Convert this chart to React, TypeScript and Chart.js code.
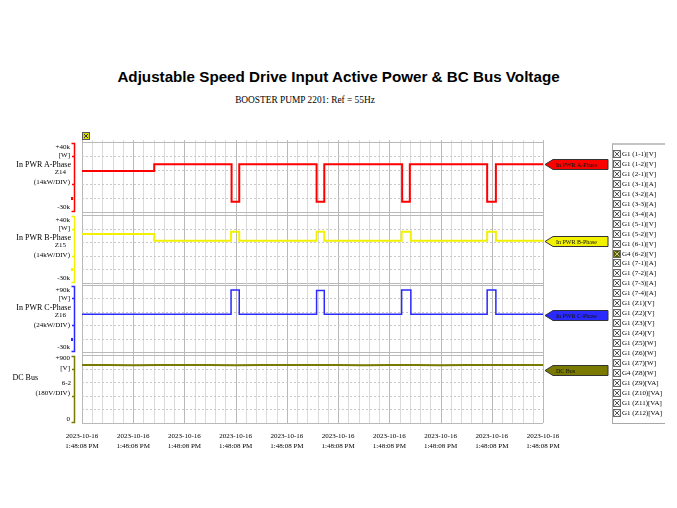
import React, { useEffect, useRef } from 'react';
import { Chart, registerables } from 'chart.js';

Chart.register(...registerables);

// ---------- data ----------
const xTickDates = ['2023-10-16', '2023-10-16', '2023-10-16', '2023-10-16', '2023-10-16', '2023-10-16', '2023-10-16', '2023-10-16', '2023-10-16', '2023-10-16'];
const xTickTimes = ['1:48:08 PM', '1:48:08 PM', '1:48:08 PM', '1:48:08 PM', '1:48:08 PM', '1:48:08 PM', '1:48:08 PM', '1:48:08 PM', '1:48:08 PM', '1:48:08 PM'];

// time axis in divisions (0..9)
const phaseATime = [0, 1.41, 2.92, 3.07, 4.58, 4.73, 6.25, 6.4, 7.91, 8.08, 9];
const phaseAPower = [11000, 17700, -19700, 17700, -19700, 17700, -19700, 17700, -19700, 17700, 17700];

const phaseBTime = [0, 1.41, 2.91, 3.07, 4.58, 4.73, 6.24, 6.42, 7.91, 8.08, 9];
const phaseBPower = [20400, 13600, 22800, 13600, 22800, 13600, 22800, 13600, 22800, 13600, 13600];

const phaseCTime = [0, 2.91, 3.07, 4.58, 4.73, 6.24, 6.42, 7.91, 8.08, 9];
const phaseCPower = [37500, 81000, 37500, 80000, 37500, 81000, 37500, 81000, 37500, 37500];

const dcBusTime = [0, 0.5, 1, 1.5, 2, 2.5, 3, 3.5, 4, 4.5, 5, 5.5, 6, 6.5, 7, 7.5, 8, 8.5, 9];
const dcBusVolts = [766, 768, 765, 767, 769, 766, 764, 767, 768, 766, 767, 765, 768, 766, 764, 767, 769, 766, 767];

const panelNames = ['In PWR A-Phase', 'In PWR B-Phase', 'In PWR C-Phase', 'DC Bus'];
const panelTopLabels = ['+40k', '+40k', '+90k', '+900'];
const panelUnits = ['[W]', '[W]', '[W]', '[V]'];
const panelChannels = ['Z14', 'Z15', 'Z16', '6-2'];
const panelDivLabels = ['(14kW/DIV)', '(14kW/DIV)', '(24kW/DIV)', '(180V/DIV)'];
const panelBottomLabels = ['-30k', '-30k', '-30k', '0'];
const panelMin = [-30000, -30000, -30000, 0];
const panelMax = [40000, 40000, 90000, 900];

const channelList = [
  'G1 (1-1)[V]', 'G1 (1-2)[V]', 'G1 (2-1)[V]', 'G1 (3-1)[A]', 'G1 (3-2)[A]', 'G1 (3-3)[A]', 'G1 (3-4)[A]',
  'G1 (5-1)[V]', 'G1 (5-2)[V]', 'G1 (6-1)[V]', 'G4 (6-2)[V]', 'G1 (7-1)[A]', 'G1 (7-2)[A]', 'G1 (7-3)[A]',
  'G1 (7-4)[A]', 'G1 (Z1)[V]', 'G1 (Z2)[V]', 'G1 (Z3)[V]', 'G1 (Z4)[V]', 'G1 (Z5)[W]', 'G1 (Z6)[W]',
  'G1 (Z7)[W]', 'G4 (Z8)[W]', 'G1 (Z9)[VA]', 'G1 (Z10)[VA]', 'G1 (Z11)[VA]', 'G1 (Z12)[VA]',
];
const activeChannels = ['G4 (6-2)[V]'];

const SERIES = [
  { t: phaseATime, v: phaseAPower },
  { t: phaseBTime, v: phaseBPower },
  { t: phaseCTime, v: phaseCPower },
  { t: dcBusTime, v: dcBusVolts },
];

// ---------- styles / layout ----------
const W = 677;
const PLOT_LEFT = 82;
const PLOT_RIGHT = 543;
const PANEL_TOP = [142, 215, 285, 355];
const PANEL_BOTTOM = [212, 283, 352, 423];
const AXIS_H = 30;
const COLORS = ['#ff0000', '#f2f200', '#2a2aff', '#7a7a00'];
const LINE_W = [2, 2, 1.5, 2];
const STEPPED = [true, true, true, false];
const TAG_OFFSET = [0, 0, 1, 5];
const SERIF = '"Liberation Serif", "Times New Roman", serif';

function Panel({ idx }: { idx: number }) {
  const ref = useRef<HTMLCanvasElement>(null);
  const isLast = idx === 3;
  const top = PANEL_TOP[idx];
  const bottom = PANEL_BOTTOM[idx];
  const h = isLast ? bottom - top + 2 + AXIS_H : bottom - top + 4;

  useEffect(() => {
    const s = SERIES[idx];
    const color = COLORS[idx];
    const gridPlugin = {
      id: 'scopeGrid',
      beforeDatasetsDraw(chart: any) {
        const { ctx, chartArea: a, scales } = chart;
        const x = scales.x;
        const y = scales.y;
        ctx.save();
        ctx.lineWidth = 1;
        const ext = 2;
        for (let k = 0; k <= 45; k++) {
          const px = Math.round(x.getPixelForValue(k * 0.2)) + 0.5;
          ctx.strokeStyle = k % 5 === 0 ? '#b9b9b9' : '#dadada';
          ctx.beginPath();
          ctx.moveTo(px, a.top - ext);
          ctx.lineTo(px, a.bottom + (isLast ? 0 : ext));
          ctx.stroke();
        }
        const mn = panelMin[idx];
        const mx = panelMax[idx];
        for (let j = 0; j <= 5; j++) {
          const py = Math.round(y.getPixelForValue(mn + (j * (mx - mn)) / 5)) + 0.5;
          const edge = j === 0 || j === 5;
          ctx.strokeStyle = edge ? '#b9b9b9' : '#c8c8c8';
          ctx.setLineDash(edge ? [] : [2, 2]);
          ctx.beginPath();
          ctx.moveTo(a.left, py);
          ctx.lineTo(a.right, py);
          ctx.stroke();
        }
        ctx.setLineDash([]);
        ctx.restore();
      },
      afterDraw(chart: any) {
        const { ctx, chartArea: a, scales } = chart;
        const y = scales.y;
        ctx.save();
        // bracket on the left
        const bx = 74.5;
        ctx.strokeStyle = color;
        ctx.lineWidth = 1.5;
        ctx.beginPath();
        ctx.moveTo(bx - 3, a.top + 1.5);
        ctx.lineTo(bx, a.top + 1.5);
        ctx.lineTo(bx, a.bottom - 0.5);
        ctx.lineTo(bx - 3, a.bottom - 0.5);
        ctx.stroke();
        const mn = panelMin[idx];
        const mx = panelMax[idx];
        [1, 3].forEach((j) => {
          const py = Math.round(y.getPixelForValue(mx - (j * (mx - mn)) / 5)) + 0.5;
          ctx.beginPath();
          ctx.moveTo(bx - 2.5, py);
          ctx.lineTo(bx, py);
          ctx.stroke();
        });
        if (!isLast) {
          const pd = Math.round(y.getPixelForValue(mx - (4 * (mx - mn)) / 5));
          ctx.fillStyle = color;
          ctx.fillRect(71, pd - 1, 2, 3);
        }
        // tag on the right
        const lastV = s.v[s.v.length - 1];
        const ty = Math.round(y.getPixelForValue(lastV)) + TAG_OFFSET[idx] + 0.5;
        const tipX = 545;
        const bodyX = 553;
        const endX = 608;
        ctx.beginPath();
        ctx.moveTo(tipX, ty);
        ctx.lineTo(bodyX, ty - 5);
        ctx.lineTo(endX, ty - 5);
        ctx.lineTo(endX, ty + 5);
        ctx.lineTo(bodyX, ty + 5);
        ctx.closePath();
        ctx.fillStyle = color;
        ctx.fill();
        ctx.strokeStyle = '#333';
        ctx.lineWidth = 1;
        ctx.stroke();
        ctx.fillStyle = '#111';
        ctx.font = `6px ${SERIF}`;
        ctx.textBaseline = 'middle';
        ctx.textAlign = 'left';
        ctx.fillText(panelNames[idx], bodyX + 3, ty + 0.5);
        ctx.restore();
      },
    };

    const xScale: any = {
      type: 'linear',
      min: 0,
      max: 9,
      display: isLast,
      grid: { display: false, drawTicks: false },
      border: { display: false },
      ticks: {
        stepSize: 1,
        autoSkip: false,
        maxRotation: 0,
        padding: 8,
        color: '#000',
        font: { family: SERIF, size: 7, lineHeight: 1.4 },
        callback: (v: any) => {
          const i = Math.round(Number(v));
          return [xTickDates[i], xTickTimes[i]];
        },
      },
    };
    if (isLast) {
      xScale.afterFit = (sc: any) => {
        sc.height = AXIS_H;
      };
    }

    const chart = new Chart(ref.current as HTMLCanvasElement, {
      type: 'line',
      data: {
        datasets: [
          {
            data: s.t.map((t, i) => ({ x: t, y: s.v[i] })),
            borderColor: color,
            borderWidth: LINE_W[idx],
            stepped: STEPPED[idx] ? 'before' : false,
            pointRadius: 0,
            fill: false,
            tension: 0,
          } as any,
        ],
      },
      options: {
        animation: false,
        responsive: false,
        maintainAspectRatio: false,
        devicePixelRatio: 1,
        events: [],
        layout: { padding: { left: PLOT_LEFT, right: W - PLOT_RIGHT, top: 2, bottom: isLast ? 0 : 2 } },
        plugins: { legend: { display: false }, tooltip: { enabled: false }, title: { display: false } },
        scales: {
          x: xScale,
          y: { type: 'linear', min: panelMin[idx], max: panelMax[idx], display: false },
        },
      } as any,
      plugins: [gridPlugin],
    });
    return () => chart.destroy();
  }, []);

  return (
    <canvas
      ref={ref}
      width={W}
      height={h}
      style={{ position: 'absolute', left: 0, top: top - 2, width: W, height: h }}
    />
  );
}

function Txt({ x, y, align, size = 7, children }: { x: number; y: number; align?: 'left' | 'right'; size?: number; children: any }) {
  const style: any = {
    position: 'absolute',
    top: y - 6,
    lineHeight: '12px',
    fontSize: size,
    fontFamily: SERIF,
    whiteSpace: 'nowrap',
    color: '#000',
  };
  if (align === 'right') style.right = W - x;
  else style.left = x;
  return <div style={style}>{children}</div>;
}

function CheckBox({ active }: { active: boolean }) {
  return (
    <svg width={8} height={8} style={{ position: 'absolute', left: 0, top: 1 }}>
      <rect x={0.5} y={0.5} width={7} height={7} fill={active ? '#5e5e00' : '#f4f4f4'} stroke="#666" />
      <line x1={1.5} y1={1.5} x2={6.5} y2={6.5} stroke={active ? '#c8c8a0' : '#555'} />
      <line x1={6.5} y1={1.5} x2={1.5} y2={6.5} stroke={active ? '#c8c8a0' : '#555'} />
    </svg>
  );
}

export default function App() {
  return (
    <div style={{ position: 'absolute', left: 0, top: 0, width: W, height: 508, background: '#fff', overflow: 'hidden' }}>
      <div
        style={{
          position: 'absolute',
          left: 0,
          top: 68,
          width: W,
          textAlign: 'center',
          fontFamily: '"Liberation Sans", Arial, sans-serif',
          fontWeight: 'bold',
          fontSize: 15.2,
          lineHeight: '18px',
          color: '#000',
        }}
      >
        Adjustable Speed Drive Input Active Power &amp; BC Bus Voltage
      </div>
      <div
        style={{
          position: 'absolute',
          left: 305,
          top: 93,
          transform: 'translateX(-50%) scaleX(0.85)',
          fontFamily: SERIF,
          fontSize: 11,
          lineHeight: '12px',
          whiteSpace: 'nowrap',
          color: '#000',
        }}
      >
        BOOSTER PUMP 2201: Ref = 55Hz
      </div>

      {/* cursor marker */}
      <svg width={8} height={8} style={{ position: 'absolute', left: 82, top: 132 }}>
        <rect x={0.5} y={0.5} width={7} height={7} fill="#d9d900" stroke="#555" />
        <line x1={2} y1={2} x2={6} y2={6} stroke="#333" />
        <line x1={6} y1={2} x2={2} y2={6} stroke="#333" />
      </svg>

      {[0, 1, 2, 3].map((i) => (
        <Panel key={i} idx={i} />
      ))}

      {/* left labels */}
      {[0, 1, 2, 3].map((i) => {
        const t = PANEL_TOP[i];
        const b = PANEL_BOTTOM[i];
        const last = i === 3;
        return (
          <React.Fragment key={'l' + i}>
            <Txt x={70} y={t + (last ? 3 : 5)} align="right">{panelTopLabels[i]}</Txt>
            <Txt x={70} y={t + 13} align="right">{panelUnits[i]}</Txt>
            <Txt x={last ? 38 : 71} y={t + 23} align="right" size={8}>{panelNames[i]}</Txt>
            <Txt x={last ? 71 : 66} y={t + (last ? 28 : 30)} align="right">{panelChannels[i]}</Txt>
            <Txt x={70} y={t + (last ? 38 : 40)} align="right">{panelDivLabels[i]}</Txt>
            <Txt x={70} y={b - (last ? 4 : 5)} align="right">{panelBottomLabels[i]}</Txt>
          </React.Fragment>
        );
      })}

      {/* channel list */}
      <div
        style={{
          position: 'absolute',
          left: 612,
          top: 143,
          width: 52,
          height: 278,
          borderTop: '2px solid #c4c4c4',
          borderLeft: '1px solid #a8a8a8',
          borderBottom: '1px solid #a8a8a8',
        }}
      />
      {channelList.map((c, i) => (
        <div
          key={c}
          style={{ position: 'absolute', left: 613, top: 154 + i * 9.95 - 5, height: 10, width: 60 }}
        >
          <CheckBox active={activeChannels.includes(c)} />
          <div
            style={{
              position: 'absolute',
              left: 9,
              top: 0,
              fontFamily: SERIF,
              fontSize: 7,
              lineHeight: '10px',
              whiteSpace: 'nowrap',
              color: '#000',
            }}
          >
            {c}
          </div>
        </div>
      ))}
    </div>
  );
}
